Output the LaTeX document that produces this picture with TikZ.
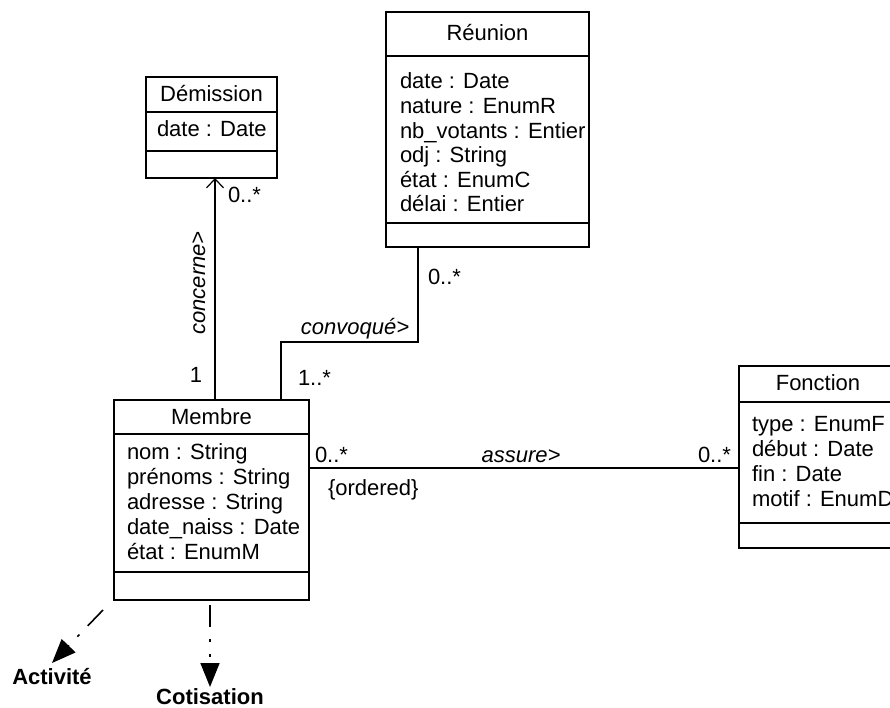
\documentclass[tikz,border=0pt]{standalone}
\usepackage{fontspec}
\setmainfont{Liberation Sans}
\usetikzlibrary{arrows.meta,calc}
\begin{document}
\begin{tikzpicture}[x=1pt,y=-1pt,
  every node/.style={inner sep=0pt, outer sep=0pt},
  txt/.style={font=\fontsize{22}{24.6}\selectfont, text height=15pt, text depth=1pt},
  ital/.style={txt, font=\fontsize{22}{24.6}\selectfont\itshape},
  bold/.style={txt, font=\fontsize{22}{24.6}\selectfont\bfseries},
  attr/.style={txt, anchor=west},
  classbox/.style={draw, line width=1.3pt, anchor=north west},
  sepline/.style={line width=1.3pt},
  assoc/.style={line width=1.2pt},
  navig/.style={assoc, -{Straight Barb[length=9pt,width=17pt,line width=1.2pt]}},
  depend/.style={line width=1.6pt, dash pattern=on 22pt off 12pt on 3pt off 12pt on 3pt off 12pt,
                 -{Triangle[length=24pt,width=19pt]}}
]
\clip (0,0) rectangle (890,708);
\fill[white] (0,0) rectangle (890,708);

% ---------- class Réunion ----------
\node[classbox, minimum width=203pt, minimum height=235pt] (reunion) at (386,12) {};
\node[txt] (reunion-t) at (487.5,34) {Réunion};
\draw[sepline] (386,56) -- (589,56);
\draw[sepline] (386,223) -- (589,223);
\foreach \t [count=\i] in {date : Date, nature : EnumR, nb\_votants : Entier,
                          odj : String, état : EnumC, délai : Entier}
  \node[attr] (reunion-a\i) at (400,{82+24.6*(\i-1)}) {\t};

% ---------- class Démission ----------
\node[classbox, minimum width=131pt, minimum height=101pt] (dem) at (146,77) {};
\node[txt] (dem-t) at (211.5,95) {Démission};
\draw[sepline] (146,112) -- (277,112);
\draw[sepline] (146,151) -- (277,151);
\node[attr] (dem-a1) at (157,130) {date : Date};

% ---------- class Membre ----------
\node[classbox, minimum width=195pt, minimum height=200pt] (membre) at (114,400) {};
\node[txt] (membre-t) at (211.5,417) {Membre};
\draw[sepline] (114,434) -- (309,434);
\draw[sepline] (114,572) -- (309,572);
\foreach \t [count=\i] in {nom : String, prénoms : String, adresse : String,
                          date\_naiss : Date, état : EnumM}
  \node[attr] (membre-a\i) at (127,{452+25*(\i-1)}) {\t};

% ---------- class Fonction ----------
\node[classbox, minimum width=158pt, minimum height=182pt] (fonction) at (739,366) {};
\node[txt] (fonction-t) at (818,383) {Fonction};
\draw[sepline] (739,402) -- (897,402);
\draw[sepline] (739,523) -- (897,523);
\foreach \t [count=\i] in {type : EnumF, début : Date, fin : Date, motif : EnumD}
  \node[attr] (fonction-a\i) at (752,{424+25*(\i-1)}) {\t};

% ---------- association "concerne" ----------
\coordinate (demfoot) at ([xshift=3.5pt]dem.south);
\draw[navig] (membre.north -| demfoot) -- (demfoot);
\node[attr] (mult-dem) at (228,196) {0..*};
\node[ital, rotate=90] (lab-concerne) at (198,283) {concerne>};
\node[txt] (mult-one) at (196,375) {1};

% ---------- association "convoqué" ----------
\coordinate (kinkL) at (281,342);
\coordinate (kinkR) at (418,342);
\draw[assoc] (membre.north -| kinkL) |- (kinkR) -- (reunion.south -| kinkR);
\node[ital] (lab-convoque) at (355,327) {convoqué>};
\node[attr] (mult-reu) at (428,277) {0..*};
\node[attr] (mult-mem) at (298,378) {1..*};

% ---------- association "assure" ----------
\coordinate (assy) at (0,468);
\draw[assoc] (membre.east |- assy) -- (fonction.west |- assy);
\node[attr] (mult-ml) at (315,455) {0..*};
\node[attr] (ordered) at (328,488) {\{ordered\}};
\node[ital] (lab-assure) at (521,455) {assure>};
\node[attr] (mult-fr) at (698,455) {0..*};

% ---------- dependencies ----------
\node[bold] (act) at (52,677) {Activité};
\node[bold] (cot) at (210,697) {Cotisation};
\draw[depend] ([shift={(-11pt,-10pt)}]membre.south west) -- ([yshift=6pt]act.north);
\draw[depend] ([yshift=-5pt]membre.south -| cot.north) -- ([yshift=2pt]cot.north);
\end{tikzpicture}
\end{document}
